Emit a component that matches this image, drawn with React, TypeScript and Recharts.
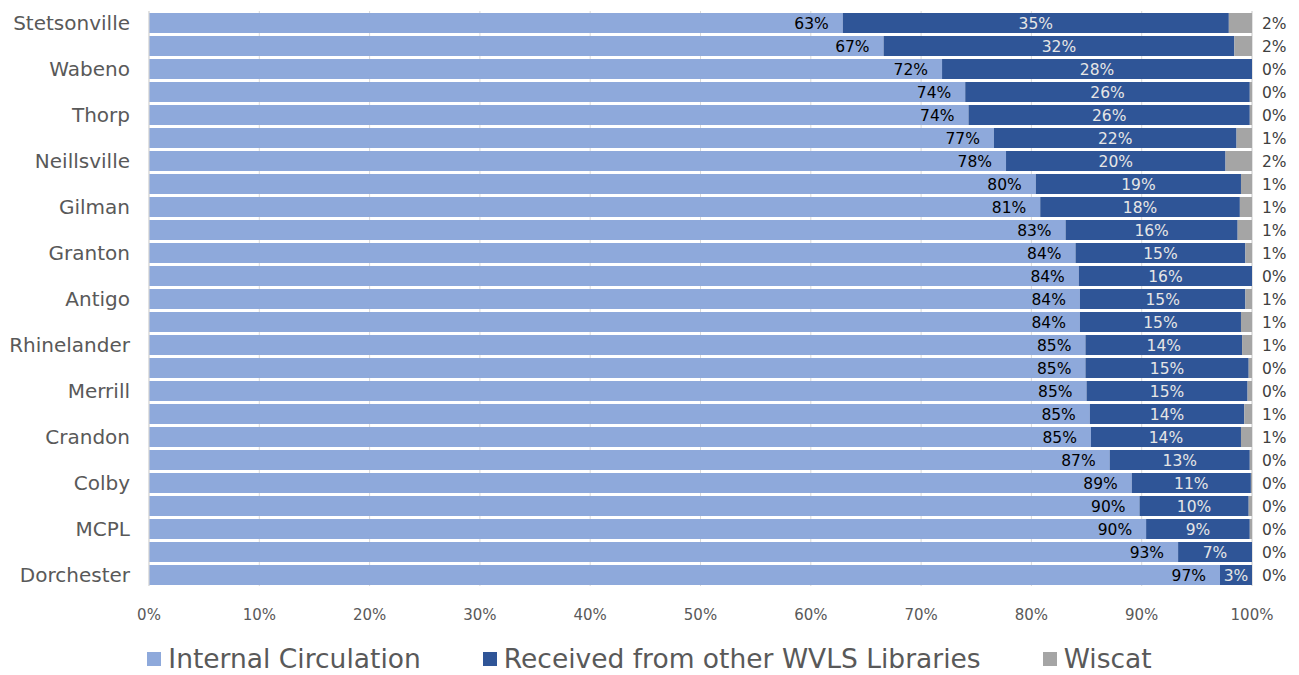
import React from "react";
import {
  BarChart,
  Bar,
  XAxis,
  YAxis,
  CartesianGrid,
  Legend,
  LabelList,
} from "recharts";

const libraries = [
  "Stetsonville", "Library 2", "Wabeno", "Library 4", "Thorp", "Library 6",
  "Neillsville", "Library 8", "Gilman", "Library 10", "Granton", "Library 12",
  "Antigo", "Library 14", "Rhinelander", "Library 16", "Merrill", "Library 18",
  "Crandon", "Library 20", "Colby", "Library 22", "MCPL", "Library 24", "Dorchester",
];

const internal = [
  62.9, 66.6, 71.9, 74.0, 74.3, 76.6, 77.7, 80.4, 80.8, 83.1, 84.0, 84.3, 84.4,
  84.4, 84.9, 84.9, 85.0, 85.3, 85.4, 87.1, 89.1, 89.8, 90.4, 93.3, 97.1,
];
const received = [
  35.0, 31.8, 28.1, 25.8, 25.5, 22.0, 19.9, 18.6, 18.1, 15.6, 15.4, 15.7, 15.0,
  14.6, 14.2, 14.8, 14.6, 14.0, 13.6, 12.7, 10.8, 9.9, 9.4, 6.7, 2.9,
];
const wiscat = [
  2.1, 1.6, 0.0, 0.2, 0.2, 1.4, 2.4, 1.0, 1.1, 1.3, 0.6, 0.0, 0.6, 1.0, 0.9,
  0.3, 0.4, 0.7, 1.0, 0.2, 0.1, 0.3, 0.2, 0.0, 0.0,
];

const xTicks = [0, 10, 20, 30, 40, 50, 60, 70, 80, 90, 100];

const series = [
  { key: "internal", name: "Internal Circulation", color: "#8EA9DB" },
  { key: "received", name: "Received from other WVLS Libraries", color: "#2F5597" },
  { key: "wiscat", name: "Wiscat", color: "#A5A5A5" },
];

const data = libraries.map((name, i) => ({
  name,
  internal: internal[i],
  received: received[i],
  wiscat: wiscat[i],
}));

const FONT = "'DejaVu Sans', Verdana, sans-serif";
const pct = (v: any) => `${Math.round(Number(v))}%`;

const InsideEndLabel = (props: any) => {
  const { x, y, width, height, value } = props;
  return (
    <text x={x + width - 14} y={y + height / 2 + 1} textAnchor="end" dominantBaseline="middle"
      fontSize={15.5} fontFamily={FONT} fill="#000">
      {pct(value)}
    </text>
  );
};

const CenterLabel = (props: any) => {
  const { x, y, width, height, value } = props;
  return (
    <text x={x + width / 2} y={y + height / 2 + 1} textAnchor="middle" dominantBaseline="middle"
      fontSize={15.5} fontFamily={FONT} fill="#E6E6E6">
      {pct(value)}
    </text>
  );
};

// Wiscat label sits just past the end of the stack; drawn from the internal bar
// so that zero-width Wiscat segments still get their "0%".
const WiscatLabel = (props: any) => {
  const { x, y, width, height, index } = props;
  const total = internal[index] + received[index] + wiscat[index];
  const end = x + (width * total) / internal[index];
  return (
    <text x={end + 10} y={y + height / 2 + 1} textAnchor="start" dominantBaseline="middle"
      fontSize={15.5} fontFamily={FONT} fill="#404040">
      {pct(wiscat[index])}
    </text>
  );
};

const renderLegend = () => (
  <div style={{ display: "flex", justifyContent: "center", gap: 62, paddingTop: 12, fontFamily: FONT, fontSize: 26.5, lineHeight: "22px", color: "#595959" }}>
    {series.map((s) => (
      <div key={s.key} style={{ display: "flex", alignItems: "center" }}>
        <span style={{ display: "inline-block", width: 14, height: 14, background: s.color, marginRight: 7 }} />
        <span>{s.name}</span>
      </div>
    ))}
  </div>
);

export default function App() {
  return (
    <div style={{ position: "absolute", left: 0, top: 0, background: "#fff" }}>
      <BarChart
        width={1299}
        height={675}
        data={data}
        layout="vertical"
        margin={{ top: 11, right: 47, bottom: 0, left: 0 }}
        barSize={20}
      >
        <CartesianGrid horizontal={false} stroke="#D9D9D9" />
        <XAxis
          type="number"
          domain={[0, 100]}
          ticks={xTicks}
          tickFormatter={(v) => `${v}%`}
          axisLine={false}
          tickLine={false}
          tickMargin={17}
          height={50}
          tick={{ fill: "#595959", fontSize: 15, fontFamily: FONT }}
        />
        <YAxis
          type="category"
          dataKey="name"
          width={149}
          interval={1}
          tickLine={false}
          axisLine={{ stroke: "#D9D9D9" }}
          tickMargin={13}
          tick={{ fill: "#595959", fontSize: 20, fontFamily: FONT }}
        />
        <Legend
          verticalAlign="bottom"
          height={39}
          content={renderLegend}
          wrapperStyle={{ left: 0, width: 1299 }}
        />
        <Bar dataKey="internal" name="Internal Circulation" stackId="a" fill="#8EA9DB" isAnimationActive={false}>
          <LabelList dataKey="internal" content={InsideEndLabel} />
          <LabelList dataKey="wiscat" content={WiscatLabel} />
        </Bar>
        <Bar dataKey="received" name="Received from other WVLS Libraries" stackId="a" fill="#2F5597" isAnimationActive={false}>
          <LabelList dataKey="received" content={CenterLabel} />
        </Bar>
        <Bar dataKey="wiscat" name="Wiscat" stackId="a" fill="#A5A5A5" isAnimationActive={false} />
      </BarChart>
    </div>
  );
}
